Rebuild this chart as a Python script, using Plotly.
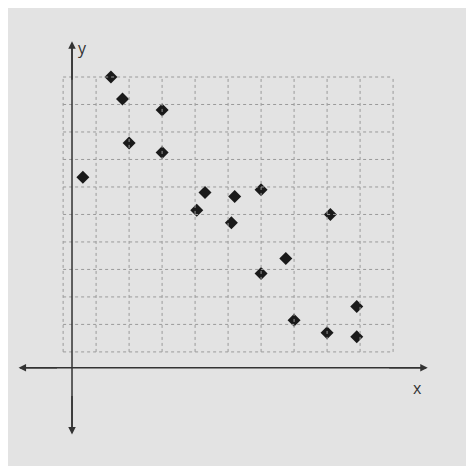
import plotly.graph_objects as go

x_vals = [0.6, 1.45, 1.8, 2.0, 3.0, 3.0, 4.05, 4.3, 5.1, 5.2, 6.0, 6.0, 6.75, 7.0, 8.1, 8.0, 8.9, 8.9]
y_vals = [6.35, 10.0, 9.2, 7.6, 8.8, 7.25, 5.15, 5.8, 4.7, 5.65, 5.9, 2.85, 3.4, 1.15, 5.0, 0.7, 1.65, 0.55]

fig = go.Figure(go.Scatter(
    x=x_vals, y=y_vals, mode="markers",
    marker=dict(symbol="diamond", size=10, color="#1a1a1a"),
))

shapes = []
for i in range(11):
    shapes.append(dict(type="line", x0=i, x1=i, y0=0, y1=10,
                       line=dict(color="#9a9a9a", width=1, dash="dot")))
    shapes.append(dict(type="line", x0=0, x1=10, y0=i, y1=i,
                       line=dict(color="#9a9a9a", width=1, dash="dot")))
# axes
shapes.append(dict(type="line", x0=-1.3, x1=11.0, y0=-0.58, y1=-0.58,
                   line=dict(color="#333", width=1.5)))
shapes.append(dict(type="line", x0=0.27, x1=0.27, y0=-2.9, y1=11.2,
                   line=dict(color="#333", width=1.5)))

arrows = [(-1.35, -0.58, 40, 0), (11.05, -0.58, -40, 0),
          (0.27, 11.3, 0, 40), (0.27, -3.0, 0, -40)]
annotations = [dict(x=x, y=y, ax=ax, ay=ay, axref="pixel", ayref="pixel",
                    showarrow=True, arrowhead=2, arrowsize=1, arrowwidth=1.5,
                    arrowcolor="#333", text="") for x, y, ax, ay in arrows]
annotations += [
    dict(x=0.6, y=11.05, text="y", showarrow=False, font=dict(size=16, color="#333")),
    dict(x=10.75, y=-1.3, text="x", showarrow=False, font=dict(size=16, color="#333")),
]

fig.update_layout(
    width=458, height=458, margin=dict(l=0, r=0, t=0, b=0),
    paper_bgcolor="#e3e3e3", plot_bgcolor="#e3e3e3",
    showlegend=False, shapes=shapes, annotations=annotations,
    xaxis=dict(range=[-1.67, 12.21], visible=False),
    yaxis=dict(range=[-4.15, 12.51], visible=False),
)
fig.write_html("out.html")
